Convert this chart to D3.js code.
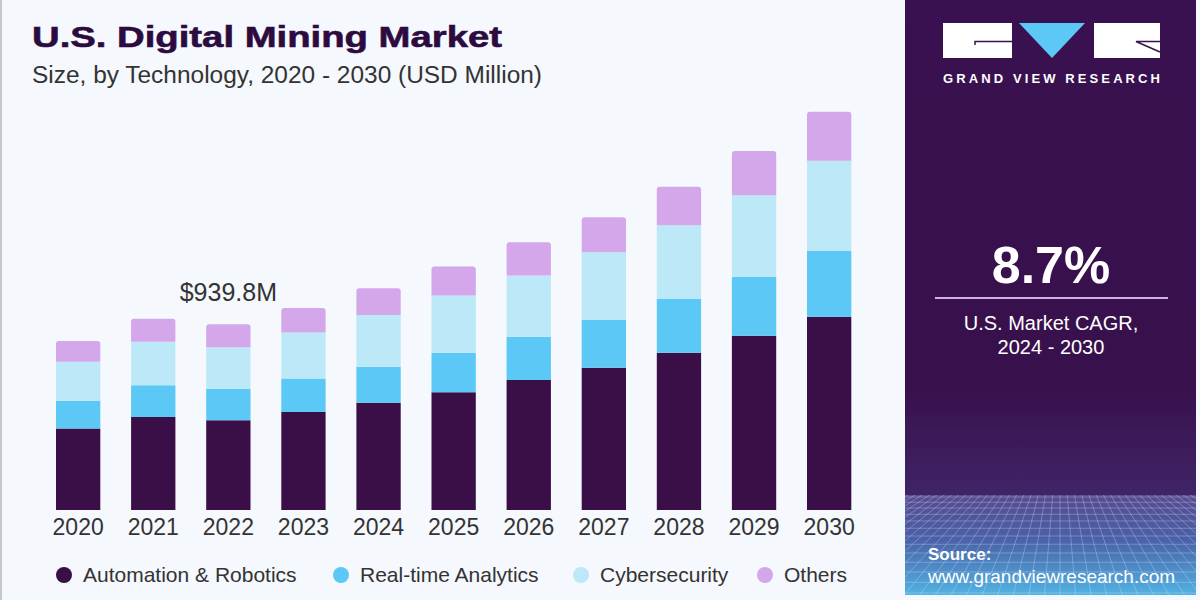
<!DOCTYPE html>
<html>
<head>
<meta charset="utf-8">
<script src="https://cdn.jsdelivr.net/npm/d3@7"></script>
<style>
  body { margin: 0; background: #f5f8fc; }
  svg { display: block; font-family: "Liberation Sans", Arial, sans-serif; }
  .axis text { font-size: 23px; fill: #333; }
  .legend text { font-size: 21px; fill: #333; }
</style>
</head>
<body>
<div class="chart-container"></div>
<script>
var width = 1200, height = 600;

// values (USD Million)
var years = ['2020', '2021', '2022', '2023', '2024', '2025', '2026', '2027', '2028', '2029', '2030'];
var automation = [413, 471, 454, 496, 543, 596, 658, 720, 796, 882, 978];
var realtime = [140, 160, 160, 169, 182, 200, 219, 241, 272, 297, 333];
var cyber = [197, 221, 210, 233, 262, 289, 309, 343, 373, 414, 456];
var others = [105, 116, 116, 124, 135, 147, 169, 177, 195, 224, 248];

var seriesNames = ['Automation & Robotics', 'Real-time Analytics', 'Cybersecurity', 'Others'];
var seriesColors = ['#3a0f47', '#5bc8f5', '#bde8f8', '#d4a6ea'];
var keys = ['automation', 'realtime', 'cyber', 'others'];

var calloutYear = '2022', calloutText = '$939.8M';
var cagrText = '8.7%';

var data = years.map(function(y, i) {
    return {year: y, automation: automation[i], realtime: realtime[i], cyber: cyber[i], others: others[i]};
});

const svg = d3.select('.chart-container')
    .append('svg')
    .attr('width', width)
    .attr('height', height);

// background + left edge
svg.append('rect').attr('width', width).attr('height', height).attr('fill', '#f5f8fc');
svg.append('rect').attr('x', 0).attr('y', 0).attr('width', 2).attr('height', height).attr('fill', '#c8c8c8');

// title
svg.append('text')
    .attr('x', 32).attr('y', 47)
    .attr('font-size', 30).attr('font-weight', 'bold')
    .attr('fill', '#2c0b40')
    .attr('stroke', '#2c0b40').attr('stroke-width', 0.6)
    .attr('textLength', 470).attr('lengthAdjust', 'spacingAndGlyphs')
    .text('U.S. Digital Mining Market');
svg.append('text')
    .attr('x', 32).attr('y', 83)
    .attr('font-size', 23)
    .attr('fill', '#333')
    .attr('textLength', 510).attr('lengthAdjust', 'spacingAndGlyphs')
    .text('Size, by Technology, 2020 - 2030 (USD Million)');

// scales
const x = d3.scaleBand()
    .domain(years)
    .range([40.6, 866.7])
    .paddingInner(0.41)
    .paddingOuter(0.205);
const y = d3.scaleLinear()
    .domain([0, 2100])
    .range([510, 95]);

var stacked = d3.stack().keys(keys)(data);

function topRounded(x0, y0, w, h, r) {
    return `M${x0},${y0 + h}V${y0 + r}Q${x0},${y0} ${x0 + r},${y0}H${x0 + w - r}Q${x0 + w},${y0} ${x0 + w},${y0 + r}V${y0 + h}Z`;
}

svg.append('g').selectAll('g')
    .data(stacked)
    .join('g')
    .attr('fill', (d, i) => seriesColors[i])
    .each(function(s, si) {
        d3.select(this).selectAll('path')
            .data(s)
            .join('path')
            .attr('d', function(d) {
                var r = si === stacked.length - 1 ? 3 : 0;
                return topRounded(x(d.data.year), y(d[1]), x.bandwidth(), y(d[0]) - y(d[1]), r);
            });
    });

// x axis labels
svg.append('g')
    .attr('class', 'axis')
    .attr('transform', 'translate(0, 513)')
    .call(d3.axisBottom(x).tickSize(0).tickPadding(6))
    .call(g => g.select('.domain').remove());

// callout
var calloutTotal = data.find(d => d.year === calloutYear);
calloutTotal = calloutTotal.automation + calloutTotal.realtime + calloutTotal.cyber + calloutTotal.others;
svg.append('text')
    .attr('x', x(calloutYear) + x.bandwidth() / 2)
    .attr('y', y(calloutTotal) - 23)
    .attr('text-anchor', 'middle')
    .attr('font-size', 25)
    .attr('fill', '#333')
    .text(calloutText);

// legend
var legendX = [64, 341, 581, 765];
var legend = svg.append('g').attr('class', 'legend');
seriesNames.forEach(function(name, i) {
    legend.append('circle')
        .attr('cx', legendX[i]).attr('cy', 575).attr('r', 8)
        .attr('fill', seriesColors[i]);
    legend.append('text')
        .attr('x', legendX[i] + 19).attr('y', 582)
        .text(name);
});

// right panel
var panel = svg.append('g');
var defs = svg.append('defs');
var grad = defs.append('linearGradient')
    .attr('id', 'panelGrad')
    .attr('x1', 0).attr('y1', 0).attr('x2', 0).attr('y2', 1);
[[0, '#3a1150'], [0.78, '#38104c'], [1, '#402466']]
    .forEach(s => grad.append('stop').attr('offset', s[0]).attr('stop-color', s[1]));
var grad2 = defs.append('linearGradient')
    .attr('id', 'gridGrad')
    .attr('x1', 0).attr('y1', 0).attr('x2', 0).attr('y2', 1);
[[0, '#574a8e'], [0.45, '#4a62a8'], [1, '#52b2e2']]
    .forEach(s => grad2.append('stop').attr('offset', s[0]).attr('stop-color', s[1]));
defs.append('clipPath').attr('id', 'gridClip')
    .append('rect').attr('x', 905).attr('y', 495).attr('width', 291).attr('height', 100);

panel.append('rect')
    .attr('x', 905).attr('y', 0).attr('width', 291).attr('height', 495)
    .attr('fill', 'url(#panelGrad)');
panel.append('rect')
    .attr('x', 905).attr('y', 495).attr('width', 291).attr('height', 100)
    .attr('fill', 'url(#gridGrad)');

// perspective grid decoration
var grid = panel.append('g').attr('clip-path', 'url(#gridClip)')
    .attr('stroke', '#dfe8ff').attr('stroke-opacity', 0.3).attr('stroke-width', 1);
for (var k = -40; k <= 40; k++) {
    grid.append('line')
        .attr('x1', 1060 + k * 6).attr('y1', 480)
        .attr('x2', 1060 + k * 16).attr('y2', 600);
}
for (var j = 0; j < 14; j++) {
    var gy = 497 + j * 5 + j * j * 0.25;
    grid.append('line').attr('x1', 905).attr('x2', 1196).attr('y1', gy).attr('y2', gy);
}

// logo
panel.append('rect').attr('x', 943).attr('y', 23).attr('width', 69).attr('height', 35).attr('fill', '#fff');
panel.append('path').attr('d', 'M975,45V41.5H1012').attr('stroke', '#3a1150').attr('stroke-width', 1.5).attr('fill', 'none');
panel.append('path').attr('d', 'M1019,23H1085L1052,58Z').attr('fill', '#5bc8f5');
panel.append('rect').attr('x', 1094).attr('y', 23).attr('width', 66).attr('height', 35).attr('fill', '#fff');
panel.append('path').attr('d', 'M1160,41.5H1136L1160,52').attr('stroke', '#3a1150').attr('stroke-width', 1.5).attr('fill', 'none');
panel.append('text')
    .attr('x', 943).attr('y', 83)
    .attr('font-size', 13).attr('font-weight', 'bold')
    .attr('fill', '#fff')
    .attr('textLength', 217).attr('lengthAdjust', 'spacing')
    .text('GRAND VIEW RESEARCH');

// CAGR
panel.append('text')
    .attr('x', 1051).attr('y', 283)
    .attr('text-anchor', 'middle')
    .attr('font-size', 52).attr('font-weight', 'bold')
    .attr('fill', '#fff')
    .text(cagrText);
panel.append('line')
    .attr('x1', 935).attr('x2', 1168).attr('y1', 298).attr('y2', 298)
    .attr('stroke', '#c9b4df').attr('stroke-width', 2);
panel.append('text')
    .attr('x', 1051).attr('y', 330)
    .attr('text-anchor', 'middle').attr('font-size', 20).attr('fill', '#fff')
    .text('U.S. Market CAGR,');
panel.append('text')
    .attr('x', 1051).attr('y', 354)
    .attr('text-anchor', 'middle').attr('font-size', 20).attr('fill', '#fff')
    .text('2024 - 2030');

// source
panel.append('text')
    .attr('x', 928).attr('y', 560)
    .attr('font-size', 17).attr('font-weight', 'bold').attr('fill', '#fff')
    .text('Source:');
panel.append('text')
    .attr('x', 928).attr('y', 583)
    .attr('font-size', 19).attr('fill', '#fff')
    .text('www.grandviewresearch.com');
</script>
</body>
</html>
